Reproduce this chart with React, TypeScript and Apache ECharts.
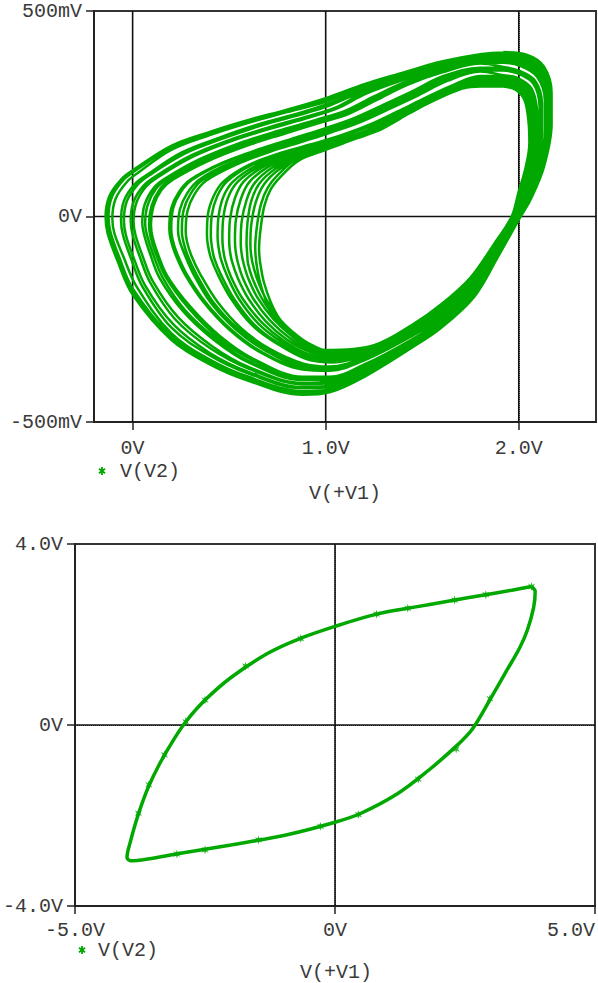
import React, { useEffect, useRef } from "react";
import * as echarts from "echarts";

// ---- Top plot: V(V2) against V(+V1), volts. One entry per turn of the trace ----
const LOOP_1 = [[1.92,0.400],[2.04,0.394],[2.13,0.365],[2.17,0.30],[2.17,0.225],[2.13,0.12],[2.06,0.04],[2.01,0.0],[1.89,-0.10],[1.77,-0.195],[1.6,-0.27],[1.45,-0.318],[1.2,-0.39],[1.02,-0.428],[0.88,-0.434],[0.6,-0.40],[0.4,-0.36],[0.2,-0.30],[0.0,-0.19],[-0.08,-0.106],[-0.13,-0.04],[-0.14,0.0],[-0.12,0.05],[-0.06,0.09],[0.0,0.112],[0.2,0.172],[0.4,0.206],[0.6,0.235],[0.8,0.26],[1.0,0.288],[1.2,0.322],[1.4,0.35],[1.6,0.377],[1.8,0.395]];
const LOOP_2 = [[1.92,0.399],[2.038,0.393],[2.128,0.364],[2.168,0.299],[2.168,0.225],[2.128,0.12],[2.059,0.04],[2.009,0.0],[1.889,-0.1],[1.769,-0.194],[1.6,-0.269],[1.45,-0.317],[1.2,-0.389],[1.02,-0.426],[0.88,-0.432],[0.6,-0.398],[0.4,-0.357],[0.2,-0.296],[0.0,-0.183],[-0.075,-0.102],[-0.123,-0.039],[-0.135,0.0],[-0.115,0.049],[-0.055,0.089],[0.005,0.111],[0.2,0.17],[0.4,0.205],[0.6,0.234],[0.8,0.259],[1.0,0.286],[1.2,0.32],[1.4,0.349],[1.6,0.376],[1.8,0.394]];
const LOOP_3 = [[1.92,0.398],[2.035,0.391],[2.125,0.362],[2.165,0.298],[2.165,0.224],[2.127,0.12],[2.058,0.04],[2.008,0.0],[1.888,-0.099],[1.768,-0.193],[1.6,-0.268],[1.45,-0.316],[1.2,-0.387],[1.02,-0.424],[0.88,-0.43],[0.6,-0.395],[0.4,-0.354],[0.2,-0.292],[0.0,-0.175],[-0.07,-0.098],[-0.115,-0.037],[-0.125,0.0],[-0.107,0.048],[-0.05,0.088],[0.01,0.11],[0.2,0.168],[0.4,0.203],[0.6,0.232],[0.8,0.257],[1.0,0.283],[1.2,0.318],[1.4,0.347],[1.6,0.374],[1.8,0.393]];
const LOOP_4 = [[1.92,0.395],[2.03,0.388],[2.12,0.36],[2.16,0.296],[2.16,0.222],[2.124,0.12],[2.056,0.041],[2.006,0.0],[1.886,-0.098],[1.766,-0.19],[1.6,-0.265],[1.45,-0.313],[1.2,-0.383],[1.02,-0.42],[0.88,-0.425],[0.6,-0.39],[0.4,-0.348],[0.2,-0.284],[0.02,-0.17],[-0.05,-0.095],[-0.095,-0.04],[-0.105,-0.005],[-0.088,0.043],[-0.03,0.084],[0.03,0.107],[0.2,0.162],[0.4,0.198],[0.6,0.228],[0.8,0.254],[1.0,0.279],[1.2,0.314],[1.4,0.344],[1.6,0.372],[1.8,0.392]];
const LOOP_5 = [[1.92,0.39],[2.025,0.384],[2.115,0.355],[2.155,0.293],[2.155,0.22],[2.12,0.12],[2.053,0.042],[2.004,0.0],[1.885,-0.096],[1.765,-0.187],[1.6,-0.262],[1.45,-0.31],[1.2,-0.378],[1.02,-0.414],[0.88,-0.418],[0.6,-0.382],[0.4,-0.338],[0.2,-0.27],[0.05,-0.17],[-0.01,-0.1],[-0.05,-0.045],[-0.06,-0.01],[-0.045,0.038],[0.01,0.078],[0.07,0.1],[0.25,0.155],[0.45,0.192],[0.65,0.224],[0.85,0.25],[1.0,0.272],[1.2,0.308],[1.4,0.34],[1.6,0.368],[1.8,0.388]];
const LOOP_6 = [[1.92,0.389],[2.024,0.382],[2.114,0.354],[2.154,0.292],[2.153,0.219],[2.119,0.12],[2.052,0.042],[2.003,0.0],[1.885,-0.095],[1.765,-0.186],[1.6,-0.261],[1.45,-0.309],[1.2,-0.376],[1.02,-0.411],[0.88,-0.415],[0.6,-0.378],[0.4,-0.332],[0.21,-0.262],[0.065,-0.168],[0.005,-0.1],[-0.035,-0.045],[-0.045,-0.01],[-0.03,0.037],[0.025,0.077],[0.085,0.1],[0.27,0.153],[0.47,0.19],[0.67,0.222],[0.87,0.248],[1.02,0.27],[1.2,0.306],[1.4,0.338],[1.6,0.366],[1.8,0.387]];
const LOOP_7 = [[1.92,0.385],[2.02,0.378],[2.11,0.35],[2.15,0.29],[2.148,0.217],[2.115,0.12],[2.05,0.043],[2.0,0.0],[1.884,-0.094],[1.764,-0.183],[1.6,-0.258],[1.45,-0.306],[1.2,-0.372],[1.02,-0.405],[0.88,-0.408],[0.6,-0.37],[0.4,-0.32],[0.22,-0.25],[0.09,-0.16],[0.035,-0.095],[0.0,-0.045],[-0.01,-0.01],[0.005,0.036],[0.055,0.074],[0.12,0.098],[0.3,0.148],[0.5,0.186],[0.7,0.216],[0.9,0.243],[1.05,0.265],[1.2,0.302],[1.4,0.334],[1.6,0.362],[1.8,0.384]];
const LOOP_8 = [[1.92,0.383],[2.018,0.376],[2.108,0.349],[2.148,0.289],[2.146,0.216],[2.113,0.12],[2.049,0.043],[2.0,0.0],[1.884,-0.094],[1.764,-0.182],[1.6,-0.257],[1.45,-0.305],[1.2,-0.37],[1.02,-0.402],[0.88,-0.405],[0.6,-0.366],[0.41,-0.315],[0.235,-0.245],[0.105,-0.158],[0.05,-0.094],[0.015,-0.045],[0.005,-0.012],[0.02,0.034],[0.07,0.073],[0.135,0.097],[0.315,0.146],[0.515,0.184],[0.715,0.214],[0.915,0.241],[1.06,0.263],[1.21,0.299],[1.4,0.332],[1.6,0.36],[1.8,0.382]];
const LOOP_9 = [[1.92,0.38],[2.015,0.372],[2.1,0.345],[2.14,0.286],[2.14,0.214],[2.11,0.12],[2.047,0.044],[1.998,0.0],[1.882,-0.092],[1.762,-0.18],[1.6,-0.255],[1.45,-0.302],[1.2,-0.365],[1.02,-0.397],[0.88,-0.398],[0.6,-0.355],[0.42,-0.3],[0.26,-0.23],[0.14,-0.15],[0.09,-0.09],[0.06,-0.045],[0.05,-0.015],[0.063,0.03],[0.11,0.07],[0.17,0.093],[0.35,0.14],[0.55,0.178],[0.75,0.208],[0.95,0.235],[1.1,0.257],[1.25,0.292],[1.4,0.325],[1.6,0.356],[1.8,0.378]];
const LOOP_10 = [[1.92,0.378],[2.013,0.37],[2.098,0.343],[2.138,0.285],[2.138,0.213],[2.108,0.12],[2.046,0.044],[1.997,0.0],[1.882,-0.092],[1.762,-0.179],[1.6,-0.254],[1.45,-0.301],[1.2,-0.363],[1.02,-0.395],[0.88,-0.395],[0.6,-0.352],[0.43,-0.297],[0.27,-0.227],[0.155,-0.148],[0.105,-0.09],[0.075,-0.046],[0.065,-0.017],[0.078,0.028],[0.122,0.068],[0.182,0.092],[0.362,0.138],[0.562,0.176],[0.762,0.206],[0.955,0.233],[1.105,0.255],[1.255,0.29],[1.41,0.323],[1.6,0.354],[1.8,0.376]];
const LOOP_11 = [[1.92,0.375],[2.011,0.367],[2.096,0.341],[2.136,0.284],[2.136,0.212],[2.106,0.12],[2.045,0.045],[1.996,0.0],[1.881,-0.091],[1.761,-0.178],[1.6,-0.253],[1.45,-0.299],[1.2,-0.361],[1.02,-0.392],[0.88,-0.392],[0.615,-0.348],[0.44,-0.293],[0.29,-0.223],[0.17,-0.146],[0.12,-0.09],[0.093,-0.05],[0.085,-0.02],[0.098,0.026],[0.14,0.066],[0.2,0.091],[0.38,0.136],[0.58,0.173],[0.78,0.203],[0.965,0.23],[1.115,0.252],[1.265,0.287],[1.415,0.321],[1.6,0.351],[1.8,0.373]];
const LOOP_12 = [[1.92,0.374],[2.01,0.366],[2.095,0.34],[2.135,0.283],[2.135,0.211],[2.105,0.12],[2.044,0.045],[1.996,0.0],[1.881,-0.09],[1.761,-0.177],[1.6,-0.252],[1.45,-0.298],[1.2,-0.36],[1.02,-0.39],[0.88,-0.39],[0.62,-0.345],[0.45,-0.29],[0.3,-0.22],[0.18,-0.145],[0.13,-0.09],[0.103,-0.05],[0.095,-0.02],[0.108,0.025],[0.15,0.065],[0.21,0.09],[0.39,0.135],[0.59,0.172],[0.79,0.202],[0.97,0.228],[1.12,0.25],[1.27,0.285],[1.42,0.32],[1.6,0.35],[1.8,0.372]];
const LOOP_13 = [[1.92,0.364],[2.0,0.355],[2.085,0.33],[2.12,0.275],[2.12,0.205],[2.095,0.12],[2.037,0.047],[1.99,0.0],[1.879,-0.087],[1.759,-0.171],[1.6,-0.245],[1.45,-0.29],[1.2,-0.35],[1.02,-0.375],[0.88,-0.372],[0.66,-0.33],[0.5,-0.275],[0.37,-0.21],[0.27,-0.14],[0.22,-0.09],[0.197,-0.055],[0.19,-0.03],[0.2,0.02],[0.24,0.06],[0.3,0.09],[0.46,0.13],[0.65,0.163],[0.83,0.19],[1.0,0.215],[1.15,0.24],[1.3,0.272],[1.45,0.305],[1.6,0.34],[1.8,0.362]];
const LOOP_14 = [[1.92,0.362],[1.999,0.354],[2.083,0.329],[2.118,0.274],[2.118,0.204],[2.093,0.12],[2.036,0.047],[1.99,0.0],[1.879,-0.087],[1.759,-0.17],[1.6,-0.244],[1.45,-0.289],[1.2,-0.349],[1.02,-0.373],[0.88,-0.37],[0.67,-0.33],[0.51,-0.275],[0.38,-0.21],[0.28,-0.14],[0.23,-0.09],[0.207,-0.056],[0.2,-0.03],[0.21,0.02],[0.25,0.06],[0.31,0.09],[0.47,0.13],[0.66,0.162],[0.84,0.189],[1.005,0.213],[1.155,0.238],[1.305,0.27],[1.455,0.303],[1.6,0.338],[1.8,0.36]];
const LOOP_15 = [[1.92,0.36],[1.997,0.352],[2.08,0.327],[2.114,0.272],[2.115,0.203],[2.09,0.12],[2.034,0.048],[1.988,0.0],[1.878,-0.086],[1.758,-0.169],[1.6,-0.243],[1.45,-0.288],[1.2,-0.347],[1.02,-0.37],[0.88,-0.366],[0.69,-0.327],[0.535,-0.275],[0.405,-0.21],[0.315,-0.14],[0.27,-0.093],[0.243,-0.058],[0.235,-0.033],[0.245,0.017],[0.283,0.057],[0.343,0.089],[0.5,0.129],[0.69,0.161],[0.86,0.187],[1.015,0.21],[1.165,0.235],[1.315,0.267],[1.465,0.3],[1.615,0.335],[1.8,0.358]];
const LOOP_16 = [[1.92,0.357],[1.995,0.35],[2.078,0.325],[2.11,0.27],[2.112,0.202],[2.088,0.12],[2.033,0.048],[1.987,0.0],[1.878,-0.085],[1.758,-0.168],[1.6,-0.242],[1.45,-0.287],[1.2,-0.345],[1.02,-0.368],[0.88,-0.362],[0.7,-0.325],[0.55,-0.275],[0.42,-0.21],[0.33,-0.14],[0.285,-0.095],[0.262,-0.06],[0.255,-0.035],[0.264,0.015],[0.3,0.055],[0.36,0.088],[0.52,0.128],[0.7,0.16],[0.87,0.185],[1.02,0.207],[1.17,0.232],[1.32,0.264],[1.47,0.297],[1.62,0.332],[1.8,0.355]];
const LOOP_17 = [[1.92,0.355],[1.994,0.348],[2.076,0.323],[2.108,0.268],[2.11,0.201],[2.086,0.12],[2.032,0.048],[1.986,0.0],[1.877,-0.084],[1.757,-0.167],[1.6,-0.241],[1.45,-0.286],[1.2,-0.343],[1.02,-0.365],[0.885,-0.358],[0.71,-0.322],[0.565,-0.273],[0.44,-0.208],[0.35,-0.14],[0.305,-0.096],[0.282,-0.062],[0.275,-0.037],[0.284,0.013],[0.32,0.054],[0.38,0.087],[0.54,0.127],[0.715,0.158],[0.885,0.183],[1.03,0.205],[1.18,0.23],[1.33,0.262],[1.48,0.295],[1.63,0.33],[1.8,0.353]];
const LOOP_18 = [[1.92,0.344],[1.99,0.338],[2.065,0.312],[2.095,0.26],[2.1,0.197],[2.075,0.12],[2.025,0.05],[1.98,0.0],[1.875,-0.08],[1.755,-0.162],[1.6,-0.235],[1.45,-0.28],[1.22,-0.335],[1.04,-0.355],[0.9,-0.347],[0.75,-0.31],[0.62,-0.265],[0.51,-0.2],[0.44,-0.14],[0.405,-0.1],[0.39,-0.07],[0.385,-0.045],[0.39,0.005],[0.42,0.05],[0.47,0.085],[0.6,0.125],[0.77,0.155],[0.92,0.175],[1.07,0.196],[1.22,0.222],[1.37,0.255],[1.5,0.285],[1.65,0.318],[1.8,0.342]];
const LOOP_19 = [[1.92,0.342],[1.99,0.336],[2.063,0.31],[2.092,0.259],[2.097,0.196],[2.072,0.12],[2.023,0.05],[1.979,0.0],[1.875,-0.079],[1.755,-0.161],[1.6,-0.234],[1.45,-0.279],[1.22,-0.333],[1.04,-0.352],[0.9,-0.343],[0.755,-0.308],[0.63,-0.263],[0.525,-0.2],[0.458,-0.142],[0.423,-0.102],[0.41,-0.072],[0.405,-0.047],[0.41,0.003],[0.438,0.049],[0.488,0.085],[0.615,0.125],[0.78,0.154],[0.93,0.174],[1.08,0.194],[1.23,0.22],[1.38,0.254],[1.51,0.284],[1.66,0.316],[1.8,0.34]];
const LOOP_20 = [[1.92,0.338],[1.99,0.333],[2.06,0.307],[2.085,0.256],[2.09,0.194],[2.068,0.12],[2.02,0.051],[1.977,0.0],[1.874,-0.078],[1.754,-0.16],[1.6,-0.232],[1.45,-0.277],[1.22,-0.33],[1.04,-0.348],[0.9,-0.338],[0.77,-0.305],[0.65,-0.26],[0.55,-0.2],[0.49,-0.145],[0.458,-0.105],[0.445,-0.075],[0.44,-0.05],[0.445,0.0],[0.47,0.048],[0.52,0.085],[0.64,0.124],[0.8,0.153],[0.95,0.172],[1.1,0.191],[1.25,0.217],[1.4,0.252],[1.53,0.282],[1.67,0.314],[1.8,0.336]];
const LOOP_21 = [[1.92,0.336],[1.99,0.331],[2.058,0.305],[2.082,0.254],[2.087,0.193],[2.065,0.12],[2.018,0.051],[1.976,0.0],[1.874,-0.077],[1.754,-0.159],[1.6,-0.231],[1.45,-0.276],[1.225,-0.328],[1.04,-0.346],[0.91,-0.335],[0.785,-0.303],[0.67,-0.258],[0.57,-0.2],[0.51,-0.147],[0.48,-0.107],[0.468,-0.077],[0.465,-0.052],[0.47,-0.002],[0.495,0.047],[0.545,0.085],[0.66,0.123],[0.81,0.152],[0.96,0.171],[1.11,0.19],[1.26,0.216],[1.41,0.251],[1.54,0.281],[1.68,0.312],[1.8,0.334]];
const LOOP_22 = [[1.92,0.333],[1.99,0.327],[2.055,0.3],[2.078,0.25],[2.082,0.19],[2.06,0.12],[2.014,0.052],[1.974,0.0],[1.873,-0.076],[1.753,-0.157],[1.6,-0.228],[1.45,-0.274],[1.23,-0.325],[1.04,-0.342],[0.92,-0.33],[0.8,-0.3],[0.69,-0.255],[0.6,-0.2],[0.545,-0.15],[0.515,-0.11],[0.503,-0.08],[0.50,-0.055],[0.505,-0.005],[0.53,0.045],[0.575,0.085],[0.68,0.122],[0.82,0.15],[0.97,0.17],[1.12,0.19],[1.27,0.215],[1.42,0.25],[1.55,0.28],[1.69,0.31],[1.8,0.33]];
const LOOP_23 = [[1.92,0.33],[1.99,0.324],[2.051,0.297],[2.074,0.247],[2.077,0.188],[2.056,0.12],[2.011,0.052],[1.972,0.0],[1.873,-0.075],[1.753,-0.156],[1.6,-0.225],[1.45,-0.272],[1.235,-0.323],[1.04,-0.339],[0.925,-0.326],[0.815,-0.296],[0.71,-0.252],[0.625,-0.2],[0.572,-0.151],[0.545,-0.112],[0.533,-0.082],[0.53,-0.058],[0.535,-0.008],[0.56,0.042],[0.603,0.083],[0.7,0.12],[0.835,0.148],[0.98,0.168],[1.13,0.189],[1.28,0.213],[1.425,0.25],[1.56,0.282],[1.695,0.31],[1.8,0.327]];
const LOOP_24 = [[1.92,0.326],[1.99,0.32],[2.047,0.293],[2.07,0.244],[2.072,0.186],[2.052,0.12],[2.008,0.053],[1.97,0.0],[1.872,-0.074],[1.752,-0.154],[1.6,-0.222],[1.45,-0.27],[1.24,-0.32],[1.04,-0.336],[0.93,-0.322],[0.83,-0.293],[0.73,-0.25],[0.65,-0.2],[0.6,-0.152],[0.575,-0.115],[0.563,-0.085],[0.56,-0.062],[0.565,-0.012],[0.59,0.04],[0.63,0.08],[0.72,0.118],[0.85,0.145],[0.99,0.167],[1.14,0.19],[1.29,0.214],[1.43,0.25],[1.57,0.285],[1.7,0.31],[1.8,0.324]];
const LOOP_25 = [[1.92,0.323],[1.99,0.317],[2.043,0.29],[2.065,0.242],[2.068,0.184],[2.048,0.12],[2.006,0.053],[1.968,0.0],[1.871,-0.073],[1.751,-0.153],[1.6,-0.22],[1.45,-0.268],[1.245,-0.318],[1.04,-0.333],[0.94,-0.32],[0.84,-0.291],[0.745,-0.25],[0.67,-0.2],[0.622,-0.152],[0.598,-0.115],[0.593,-0.088],[0.59,-0.065],[0.595,-0.015],[0.614,0.037],[0.655,0.079],[0.74,0.116],[0.86,0.143],[0.995,0.165],[1.15,0.19],[1.295,0.214],[1.43,0.252],[1.575,0.287],[1.7,0.31],[1.8,0.321]];
const LOOP_26 = [[1.92,0.321],[1.99,0.314],[2.04,0.288],[2.06,0.24],[2.064,0.183],[2.045,0.12],[2.004,0.054],[1.967,0.0],[1.871,-0.072],[1.751,-0.152],[1.6,-0.218],[1.45,-0.267],[1.25,-0.316],[1.04,-0.331],[0.95,-0.318],[0.85,-0.29],[0.76,-0.25],[0.69,-0.2],[0.645,-0.152],[0.622,-0.115],[0.613,-0.09],[0.61,-0.068],[0.615,-0.018],[0.638,0.035],[0.68,0.078],[0.76,0.115],[0.87,0.142],[1.0,0.163],[1.16,0.19],[1.3,0.215],[1.43,0.255],[1.58,0.29],[1.7,0.31],[1.8,0.319]];
const LOOP_27 = [[1.92,0.318],[1.99,0.31],[2.035,0.285],[2.055,0.235],[2.06,0.18],[2.04,0.12],[2.0,0.055],[1.965,0.0],[1.87,-0.07],[1.75,-0.15],[1.6,-0.215],[1.45,-0.265],[1.25,-0.315],[1.0,-0.328],[0.9,-0.31],[0.816,-0.284],[0.74,-0.25],[0.695,-0.21],[0.66,-0.16],[0.643,-0.12],[0.637,-0.095],[0.635,-0.075],[0.645,-0.02],[0.665,0.03],[0.70,0.07],[0.75,0.10],[0.85,0.14],[1.0,0.165],[1.1,0.183],[1.2,0.206],[1.3,0.233],[1.4,0.26],[1.5,0.284],[1.6,0.303],[1.7,0.314],[1.8,0.318]];
const LOOP_28 = [[1.92,0.316],[1.985,0.308],[2.03,0.283],[2.05,0.233],[2.055,0.178],[2.036,0.12],[1.997,0.056],[1.963,0.0],[1.869,-0.069],[1.749,-0.149],[1.6,-0.213],[1.45,-0.263],[1.25,-0.313],[1.0,-0.325],[0.905,-0.307],[0.83,-0.281],[0.76,-0.248],[0.715,-0.208],[0.68,-0.16],[0.663,-0.12],[0.657,-0.098],[0.655,-0.078],[0.665,-0.022],[0.683,0.027],[0.715,0.066],[0.765,0.096],[0.86,0.136],[1.0,0.162],[1.1,0.18],[1.2,0.203],[1.3,0.23],[1.4,0.258],[1.5,0.282],[1.6,0.301],[1.7,0.312],[1.8,0.316],[1.92,0.316]];

const TOP_LOOPS = [LOOP_1, LOOP_2, LOOP_3, LOOP_4, LOOP_5, LOOP_6, LOOP_7, LOOP_8, LOOP_9, LOOP_10, LOOP_11, LOOP_12, LOOP_13, LOOP_14, LOOP_15, LOOP_16, LOOP_17, LOOP_18, LOOP_19, LOOP_20, LOOP_21, LOOP_22, LOOP_23, LOOP_24, LOOP_25, LOOP_26, LOOP_27, LOOP_28];

const TOP_X_TICKS = [0, 1, 2];
const TOP_Y_TICKS = [-0.5, 0, 0.5];
const TOP_SOLID_X = [0, 1, 2];
const TOP_SOLID_Y = [0];

// ---- Bottom plot: V(V2) against V(+V1), volts ----
const BOTTOM_LOOP = [[3.78,3.06],[3.85,2.95],[3.82,2.6],[3.7,2.1],[3.55,1.7],[3.3,1.2],[3.05,0.7],[2.75,0.1],[2.6,-0.15],[2.3,-0.5],[1.8,-1.0],[1.2,-1.52],[0.5,-1.95],[0.0,-2.15],[-0.9,-2.42],[-2.0,-2.65],[-3.0,-2.84],[-3.6,-2.96],[-3.93,-3.0],[-4.0,-2.92],[-3.94,-2.6],[-3.79,-2.0],[-3.6,-1.4],[-3.37,-0.85],[-3.09,-0.3],[-2.85,0.1],[-2.5,0.55],[-2.0,1.05],[-1.3,1.58],[-0.7,1.9],[0.0,2.18],[0.8,2.45],[1.5,2.6],[2.2,2.74],[2.9,2.88],[3.4,2.98],[3.78,3.06]];
const BOTTOM_MARKERS = [[3.78,3.06],[2.9,2.88],[2.3,2.76],[1.4,2.58],[0.8,2.45],[-0.66,1.91],[-1.72,1.3],[-2.5,0.55],[-2.87,0.07],[-3.28,-0.66],[-3.58,-1.32],[-3.78,-1.95],[-3.04,-2.85],[-2.5,-2.76],[-1.47,-2.54],[-0.28,-2.24],[0.45,-1.98],[1.6,-1.2],[2.33,-0.53],[2.98,0.58]];

const BOT_X_TICKS = [-5, 0, 5];
const BOT_Y_TICKS = [-4, 0, 4];
const BOT_SOLID_X = [0];
const BOT_SOLID_Y = [0];

const GREEN = "#00a800";
const FONT = '"Liberation Mono", "Courier New", monospace';
const TEXT = "#3a3a3a";
const STAR = "path://M3,0 L3.8,2.6 L6,1.4 L4.6,4 L6,6.6 L3.8,5.4 L3,8 L2.2,5.4 L0,6.6 L1.4,4 L0,1.4 L2.2,2.6 Z";

const voltLabel = (v: number) => (Math.abs(v) < 1e-9 ? "0V" : `${v.toFixed(1)}V`);
const milliLabel = (v: number) => (Math.abs(v) < 1e-9 ? "0V" : `${Math.round(v * 1000)}mV`);

function axis(gridIndex: number, min: number, max: number, interval: number, ticks: number[], fmt: (v: number) => string, labelExtra: any = {}) {
  return {
    type: "value",
    gridIndex,
    min,
    max,
    interval,
    axisLine: { show: true, onZero: false, lineStyle: { color: "#222", width: 2 } },
    axisTick: { show: true, customValues: ticks, length: 8, lineStyle: { color: "#222", width: 1.5 } },
    axisLabel: {
      customValues: ticks,
      formatter: fmt,
      fontFamily: FONT,
      fontSize: 20,
      color: TEXT,
      margin: 12,
      ...labelExtra,
    },
    splitLine: { show: true, lineStyle: { color: "#333", width: 1, type: [1, 1] } },
  };
}

function solidLines(xi: number, xs: number[], ys: number[], xr: number[], yr: number[]) {
  const style = { color: "#111", width: 1.6 };
  const out: any[] = [];
  xs.forEach((x) =>
    out.push({
      type: "line", xAxisIndex: xi, yAxisIndex: xi, data: [[x, yr[0]], [x, yr[1]]],
      showSymbol: false, silent: true, z: 2, lineStyle: style,
    })
  );
  ys.forEach((y) =>
    out.push({
      type: "line", xAxisIndex: xi, yAxisIndex: xi, data: [[xr[0], y], [xr[1], y]],
      showSymbol: false, silent: true, z: 2, lineStyle: style,
    })
  );
  return out;
}

function legendMark(x: number, y: number) {
  return {
    type: "group",
    x,
    y,
    children: [
      { type: "line", shape: { x1: 0, y1: -4, x2: 0, y2: 4 }, style: { stroke: GREEN, lineWidth: 1.8 } },
      { type: "line", shape: { x1: -3, y1: -2.2, x2: 3, y2: 2.2 }, style: { stroke: GREEN, lineWidth: 1.8 } },
      { type: "line", shape: { x1: -3, y1: 2.2, x2: 3, y2: -2.2 }, style: { stroke: GREEN, lineWidth: 1.8 } },
    ],
  };
}

function textEl(x: number, y: number, text: string, align: string = "left") {
  return {
    type: "text",
    x,
    y,
    style: { text, fontFamily: FONT, fontSize: 20, fill: TEXT, align, verticalAlign: "middle" },
  };
}

export default function App() {
  const ref = useRef<HTMLDivElement>(null);

  useEffect(() => {
    if (!ref.current) return;
    const chart = echarts.init(ref.current, undefined, { renderer: "svg" });

    const trace = ([] as number[][]).concat(...TOP_LOOPS);

    chart.setOption({
      animation: false,
      backgroundColor: "#fff",
      grid: [
        { left: 94, top: 11, width: 502, height: 411, show: true, borderColor: "#333", borderWidth: 2 },
        { left: 75, top: 544, width: 522, height: 362, show: true, borderColor: "#333", borderWidth: 2 },
      ],
      xAxis: [
        axis(0, -0.2, 2.4, 0.2, TOP_X_TICKS, voltLabel, { margin: 16 }),
        axis(1, -5, 5, 1, BOT_X_TICKS, voltLabel, { margin: 14, alignMaxLabel: "right" }),
      ],
      yAxis: [
        axis(0, -0.5, 0.5, 0.1, TOP_Y_TICKS, milliLabel),
        axis(1, -4, 4, 1, BOT_Y_TICKS, voltLabel),
      ],
      series: [
        ...solidLines(0, TOP_SOLID_X, TOP_SOLID_Y, [-0.2, 2.4], [-0.5, 0.5]),
        ...solidLines(1, BOT_SOLID_X, BOT_SOLID_Y, [-5, 5], [-4, 4]),
        {
          name: "V(V2)",
          type: "line",
          xAxisIndex: 0,
          yAxisIndex: 0,
          data: trace,
          showSymbol: false,
          smooth: 0.35,
          z: 3,
          lineStyle: { color: GREEN, width: 2.5 },
        },
        {
          name: "V(V2)",
          type: "line",
          xAxisIndex: 1,
          yAxisIndex: 1,
          data: BOTTOM_LOOP,
          showSymbol: false,
          smooth: 0.35,
          z: 3,
          lineStyle: { color: GREEN, width: 3.5 },
        },
        {
          name: "V(V2) markers",
          type: "scatter",
          xAxisIndex: 1,
          yAxisIndex: 1,
          data: BOTTOM_MARKERS,
          symbol: STAR,
          symbolSize: [7, 9],
          z: 4,
          itemStyle: { color: GREEN },
        },
      ],
      graphic: [
        legendMark(102, 471),
        textEl(120, 471, "V(V2)"),
        textEl(345, 493, "V(+V1)", "center"),
        legendMark(82, 950),
        textEl(98, 950, "V(V2)"),
        textEl(336, 972, "V(+V1)", "center"),
      ],
    });

    return () => chart.dispose();
  }, []);

  return (
    <div
      ref={ref}
      style={{ position: "absolute", left: 0, top: 0, width: 598, height: 983, background: "#fff" }}
    />
  );
}
